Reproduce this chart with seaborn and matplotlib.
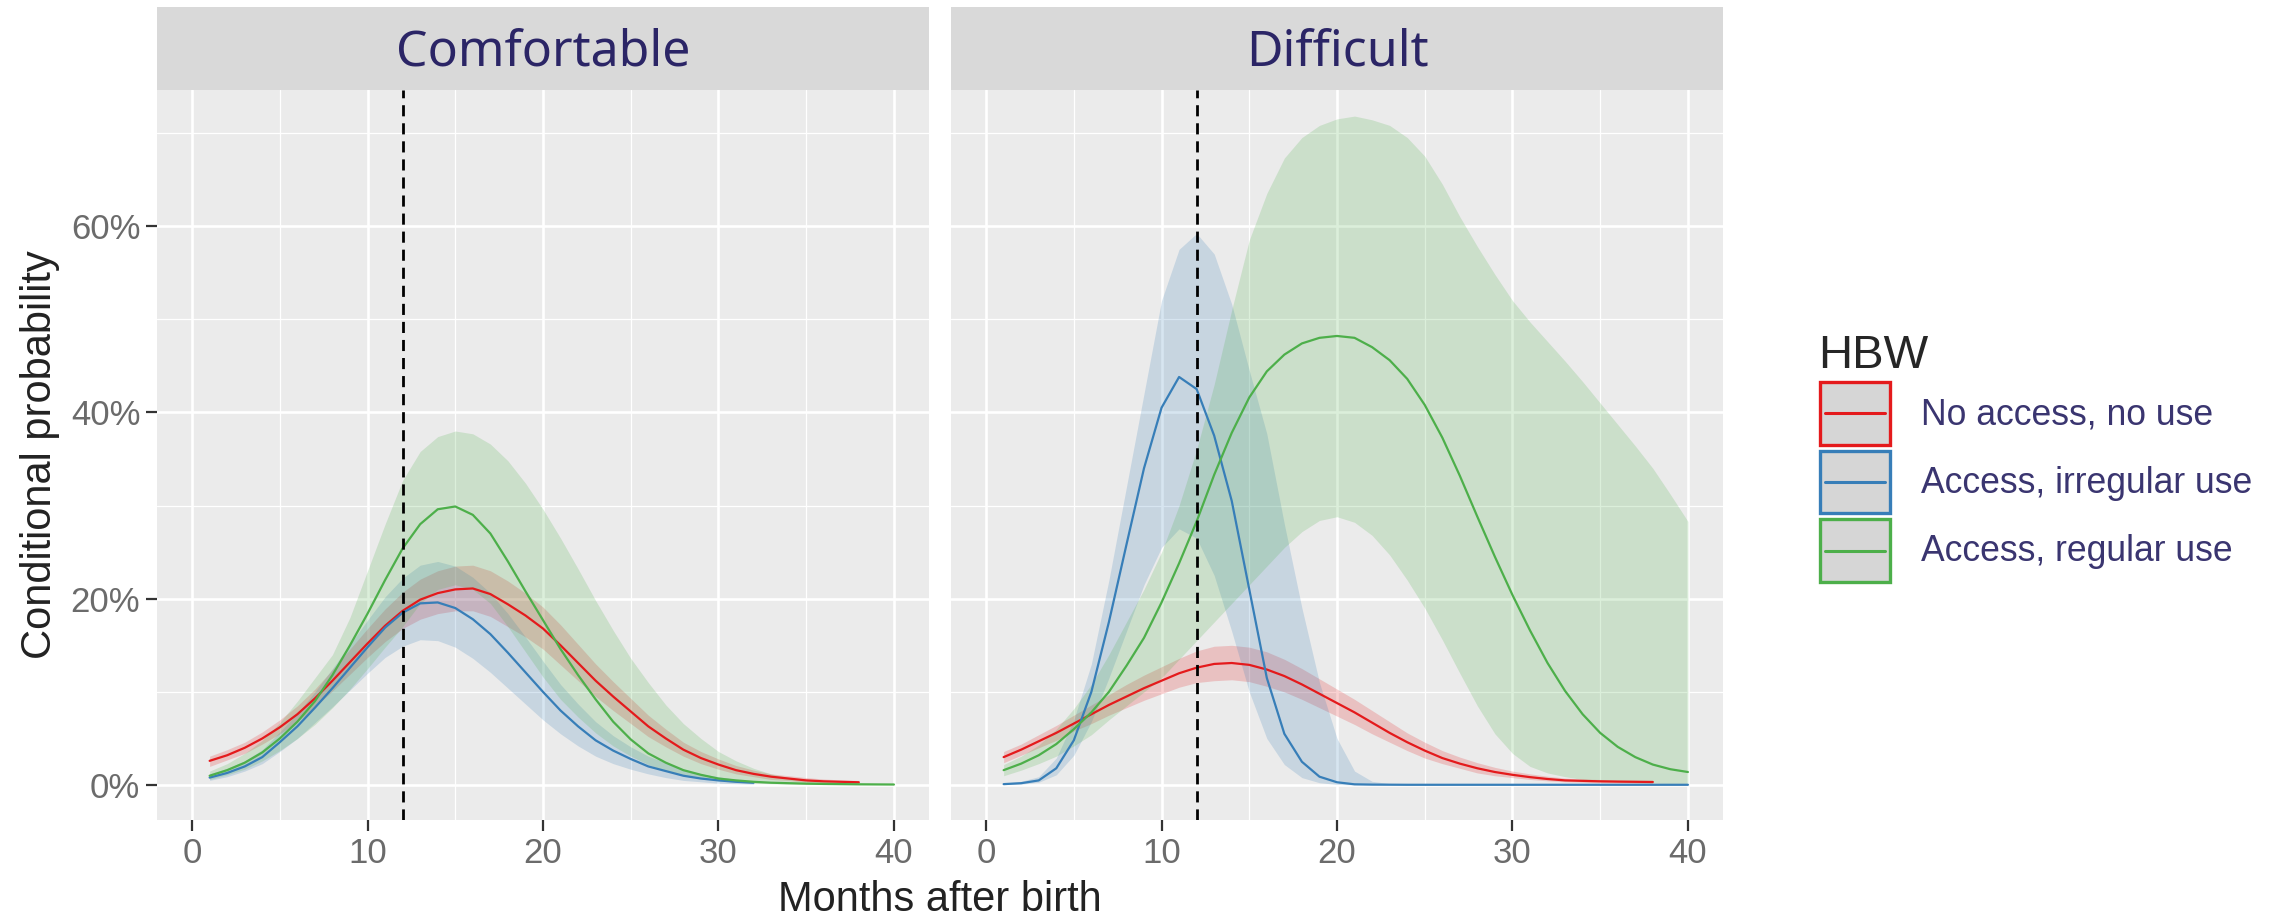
import numpy as np
import pandas as pd
import seaborn as sns
import matplotlib
matplotlib.use("Agg")
import matplotlib.pyplot as plt
from matplotlib.ticker import PercentFormatter, FixedLocator
from matplotlib.legend_handler import HandlerBase
from matplotlib.patches import Rectangle
from matplotlib.lines import Line2D

# ---------------- data (percent) ----------------
panels = ["Comfortable", "Difficult"]
groups = ["No access, no use", "Access, irregular use", "Access, regular use"]
group_colors = ["#E41A1C", "#377EB8", "#4DAF4A"]
x_ticks = [0, 10, 20, 30, 40]
y_ticks = [0, 20, 40, 60]

# Comfortable
comf_no_x = list(range(1, 39))
comf_no_mean = [2.6, 3.2, 4.0, 5.0, 6.2, 7.6, 9.3, 11.2, 13.2, 15.2, 17.1, 18.7, 19.9, 20.6, 21.0, 21.1,
                20.5, 19.4, 18.2, 16.8, 15.0, 13.1, 11.2, 9.5, 7.9, 6.3, 5.0, 3.8, 2.9, 2.2, 1.6, 1.2,
                0.9, 0.7, 0.5, 0.4, 0.35, 0.3]
comf_no_lo = [2.0, 2.7, 3.4, 4.4, 5.5, 6.8, 8.4, 10.1, 11.9, 13.7, 15.4, 16.8, 17.8, 18.4, 18.7, 18.7,
              18.1, 17.0, 15.9, 14.6, 12.9, 11.2, 9.5, 8.0, 6.6, 5.2, 4.1, 3.1, 2.3, 1.7, 1.2, 0.9,
              0.6, 0.5, 0.3, 0.2, 0.2, 0.15]
comf_no_hi = [3.1, 3.8, 4.6, 5.7, 7.0, 8.5, 10.3, 12.4, 14.6, 16.8, 18.9, 20.7, 22.1, 23.0, 23.5, 23.6,
              23.0, 21.9, 20.6, 19.1, 17.2, 15.1, 13.0, 11.1, 9.3, 7.5, 6.0, 4.6, 3.6, 2.8, 2.1, 1.6,
              1.2, 1.0, 0.8, 0.65, 0.55, 0.5]

comf_irr_x = list(range(1, 33))
comf_irr_mean = [0.8, 1.3, 2.0, 3.0, 4.6, 6.3, 8.3, 10.4, 12.6, 14.8, 16.9, 18.5, 19.5, 19.6, 19.0, 17.8,
                 16.2, 14.2, 12.1, 10.0, 8.0, 6.3, 4.8, 3.7, 2.8, 2.0, 1.5, 1.0, 0.7, 0.5, 0.35, 0.25]
comf_irr_lo = [0.5, 0.9, 1.5, 2.3, 3.6, 5.0, 6.7, 8.4, 10.2, 12.0, 13.7, 14.9, 15.6, 15.5, 14.8, 13.6,
               12.1, 10.4, 8.7, 7.0, 5.5, 4.2, 3.1, 2.3, 1.7, 1.2, 0.8, 0.5, 0.35, 0.2, 0.15, 0.1]
comf_irr_hi = [1.2, 1.8, 2.6, 3.8, 5.7, 7.7, 10.0, 12.5, 15.1, 17.7, 20.2, 22.2, 23.6, 24.0, 23.5, 22.3,
               20.6, 18.4, 15.9, 13.3, 10.8, 8.7, 6.8, 5.3, 4.1, 3.1, 2.4, 1.7, 1.2, 0.9, 0.6, 0.45]

comf_reg_x = list(range(1, 41))
comf_reg_mean = [1.0, 1.6, 2.4, 3.5, 5.0, 6.8, 9.0, 11.8, 15.0, 18.4, 22.0, 25.4, 28.0, 29.6, 29.9, 29.0,
                 27.0, 24.0, 20.8, 17.7, 14.6, 11.8, 9.2, 6.8, 4.9, 3.4, 2.4, 1.6, 1.1, 0.7, 0.5, 0.35,
                 0.25, 0.2, 0.15, 0.12, 0.1, 0.08, 0.07, 0.06]
comf_reg_lo = [0.6, 1.1, 1.7, 2.6, 3.7, 5.0, 6.5, 8.3, 10.3, 12.5, 14.8, 17.0, 19.5, 21.0, 21.5, 21.0,
               19.5, 17.0, 14.3, 11.6, 9.2, 7.3, 5.6, 4.2, 3.1, 2.2, 1.5, 1.0, 0.7, 0.45, 0.3, 0.2,
               0.15, 0.1, 0.08, 0.06, 0.05, 0.04, 0.03, 0.03]
comf_reg_hi = [1.5, 2.3, 3.4, 4.8, 6.7, 9.0, 11.5, 14.0, 18.0, 23.0, 28.0, 32.7, 35.8, 37.4, 38.0, 37.7,
               36.6, 34.8, 32.4, 29.6, 26.5, 23.2, 19.8, 16.6, 13.6, 11.0, 8.6, 6.6, 5.0, 3.6, 2.6, 1.8,
               1.2, 0.8, 0.55, 0.4, 0.3, 0.22, 0.17, 0.13]

# Difficult
diff_no_x = list(range(1, 39))
diff_no_mean = [3.0, 3.8, 4.7, 5.6, 6.6, 7.6, 8.6, 9.5, 10.4, 11.2, 12.0, 12.6, 13.0, 13.1, 12.9, 12.4,
                11.7, 10.8, 9.8, 8.8, 7.8, 6.7, 5.6, 4.6, 3.7, 2.9, 2.3, 1.8, 1.4, 1.1, 0.85, 0.65,
                0.5, 0.45, 0.4, 0.37, 0.35, 0.33]
diff_no_lo = [2.4, 3.2, 4.0, 4.8, 5.8, 6.6, 7.5, 8.3, 9.1, 9.8, 10.5, 11.0, 11.2, 11.3, 11.1, 10.6,
              10.0, 9.2, 8.3, 7.4, 6.5, 5.5, 4.6, 3.7, 2.9, 2.3, 1.8, 1.3, 1.0, 0.8, 0.6, 0.45,
              0.35, 0.3, 0.25, 0.22, 0.2, 0.18]
diff_no_hi = [3.6, 4.4, 5.4, 6.4, 7.5, 8.6, 9.7, 10.8, 11.8, 12.7, 13.6, 14.4, 14.9, 15.0, 14.8, 14.3,
              13.5, 12.5, 11.4, 10.3, 9.2, 8.0, 6.8, 5.6, 4.6, 3.7, 3.0, 2.4, 1.9, 1.5, 1.2, 0.95,
              0.75, 0.65, 0.6, 0.55, 0.52, 0.5]

diff_irr_x = list(range(1, 41))
diff_irr_mean = [0.1, 0.2, 0.5, 1.8, 4.8, 10.0, 17.5, 25.8, 34.0, 40.5, 43.8, 42.5, 37.5, 30.5, 21.0, 11.5,
                 5.5, 2.5, 0.9, 0.3, 0.08, 0.05, 0.04, 0.03, 0.03, 0.03, 0.03, 0.03, 0.03, 0.03, 0.03, 0.03,
                 0.03, 0.03, 0.03, 0.03, 0.03, 0.03, 0.03, 0.03]
diff_irr_lo = [0.05, 0.1, 0.3, 1.1, 3.2, 6.8, 11.5, 16.5, 21.5, 25.5, 27.5, 26.5, 22.5, 16.5, 10.0, 5.0,
               2.2, 0.8, 0.25, 0.07, 0.02, 0.01, 0.0, 0.0, 0.0, 0.0, 0.0, 0.0, 0.0, 0.0, 0.0, 0.0,
               0.0, 0.0, 0.0, 0.0, 0.0, 0.0, 0.0, 0.0]
diff_irr_hi = [0.2, 0.4, 0.9, 2.9, 7.0, 13.0, 22.0, 32.0, 42.0, 52.0, 57.5, 59.2, 57.0, 51.6, 44.5, 37.7,
               28.0, 19.0, 11.0, 5.0, 1.5, 0.4, 0.15, 0.08, 0.06, 0.05, 0.05, 0.05, 0.05, 0.05, 0.05, 0.05,
               0.05, 0.05, 0.05, 0.05, 0.05, 0.05, 0.05, 0.05]

diff_reg_x = list(range(1, 41))
diff_reg_mean = [1.6, 2.3, 3.2, 4.4, 6.0, 7.8, 10.0, 12.8, 15.8, 19.6, 23.8, 28.3, 33.3, 37.8, 41.6, 44.4,
                 46.2, 47.4, 48.0, 48.2, 48.0, 47.0, 45.6, 43.6, 40.8, 37.3, 33.2, 28.8, 24.5, 20.4, 16.6, 13.1,
                 10.1, 7.6, 5.6, 4.1, 3.0, 2.2, 1.7, 1.4]
diff_reg_lo = [1.0, 1.6, 2.3, 3.1, 4.2, 5.4, 7.0, 8.5, 10.0, 11.5, 13.5, 15.5, 17.5, 19.5, 21.5, 23.5,
               25.5, 27.2, 28.4, 28.8, 28.2, 26.8, 24.7, 22.0, 19.0, 15.6, 12.0, 8.5, 5.5, 3.4, 2.0, 1.3,
               0.9, 0.6, 0.45, 0.35, 0.25, 0.2, 0.15, 0.1]
diff_reg_hi = [2.2, 3.1, 4.3, 6.0, 8.2, 10.8, 14.0, 17.5, 21.0, 25.0, 30.0, 36.0, 43.0, 51.0, 58.5, 63.5,
               67.3, 69.5, 70.8, 71.5, 71.8, 71.4, 70.8, 69.5, 67.5, 64.5, 61.0, 57.8, 54.8, 52.0, 49.7, 47.6,
               45.5, 43.3, 41.0, 38.7, 36.4, 34.0, 31.2, 28.3]

series = {
    "Comfortable": [
        (comf_no_x, comf_no_mean, comf_no_lo, comf_no_hi),
        (comf_irr_x, comf_irr_mean, comf_irr_lo, comf_irr_hi),
        (comf_reg_x, comf_reg_mean, comf_reg_lo, comf_reg_hi),
    ],
    "Difficult": [
        (diff_no_x, diff_no_mean, diff_no_lo, diff_no_hi),
        (diff_irr_x, diff_irr_mean, diff_irr_lo, diff_irr_hi),
        (diff_reg_x, diff_reg_mean, diff_reg_lo, diff_reg_hi),
    ],
}

rows = []
for p in panels:
    for g, (xs, m, lo, hi) in zip(groups, series[p]):
        for xv, mv, lv, hv in zip(xs, m, lo, hi):
            rows.append(dict(panel=p, HBW=g, month=xv, prob=mv, lo=lv, hi=hv))
df = pd.DataFrame(rows)

# ---------------- style ----------------
sns.set_theme(style="darkgrid")
plt.rcParams["font.family"] = ["Liberation Sans", "DejaVu Sans"]

W, H = 2277, 923
fig = plt.figure(figsize=(W / 100, H / 100), dpi=100)
fig.patch.set_facecolor("white")

panel_top, panel_bot = 90, 820
strip_top = 7
lefts = [157, 951]
pw = 772
palette = dict(zip(groups, group_colors))

for i, p in enumerate(panels):
    x0 = lefts[i]
    ax = fig.add_axes([x0 / W, 1 - panel_bot / H, pw / W, (panel_bot - panel_top) / H])
    ax.set_facecolor("#EBEBEB")
    sub = df[df.panel == p]
    for g, c in zip(groups, group_colors):
        s = sub[sub.HBW == g]
        ax.fill_between(s.month, s.lo, s.hi, color=c, alpha=0.2, linewidth=0, zorder=2)
    sns.lineplot(data=sub, x="month", y="prob", hue="HBW", hue_order=groups, palette=palette,
                 estimator=None, sort=False, linewidth=1.6, ax=ax, legend=False, zorder=3)
    ax.axvline(12, color="black", linestyle=(0, (4, 2.5)), linewidth=2.0, zorder=4)
    ax.set_xlim(-2, 42)
    ax.set_ylim(-3.75, 74.6)
    ax.xaxis.set_major_locator(FixedLocator(x_ticks))
    ax.xaxis.set_minor_locator(FixedLocator([5, 15, 25, 35]))
    ax.yaxis.set_major_locator(FixedLocator(y_ticks))
    ax.yaxis.set_minor_locator(FixedLocator([10, 30, 50, 70]))
    ax.yaxis.set_major_formatter(PercentFormatter(xmax=100, decimals=0))
    ax.grid(which="major", color="white", linewidth=1.9)
    ax.grid(which="minor", color="white", linewidth=0.9)
    ax.set_axisbelow(True)
    for sp in ax.spines.values():
        sp.set_visible(False)
    ax.tick_params(which="major", axis="both", length=8, width=1.6, color="#333333",
                   labelsize=25, labelcolor="#6b6b6b", pad=4, direction="out")
    ax.tick_params(which="minor", length=0)
    ax.tick_params(axis="x", bottom=True)
    ax.tick_params(axis="y", left=(i == 0), labelleft=(i == 0))
    ax.set_xlabel("")
    ax.set_ylabel("")

    # facet strip
    sax = fig.add_axes([x0 / W, 1 - panel_top / H, pw / W, (panel_top - strip_top) / H])
    sax.set_facecolor("#D9D9D9")
    sax.set_xticks([])
    sax.set_yticks([])
    sax.grid(False)
    for sp in sax.spines.values():
        sp.set_visible(False)
    sax.text(0.5, 0.45, p, ha="center", va="center", fontsize=36, color="#2B2566",
             family=["Noto Sans", "DejaVu Sans"], transform=sax.transAxes)

fig.text((lefts[0] + lefts[1] + pw) / 2 / W, 1 - 900 / H, "Months after birth",
         ha="center", va="center", fontsize=30, color="#222222")
fig.text(40 / W, 1 - 455 / H, "Conditional probability", rotation=90,
         ha="center", va="center", fontsize=30, color="#222222")


# ---------------- legend ----------------
class KeyHandler(HandlerBase):
    def create_artists(self, legend, orig_handle, xdescent, ydescent, width, height, fontsize, trans):
        c = orig_handle.get_color()
        rect = Rectangle((-xdescent + 1.5, -ydescent + 1.5), width - 3, height - 3,
                         facecolor="#D6D6D6", edgecolor=c, linewidth=2.4, transform=trans)
        ln = Line2D([-xdescent + 0.1 * width, -xdescent + 0.9 * width],
                    [-ydescent + height / 2] * 2, color=c, linewidth=2.2, transform=trans)
        return [rect, ln]


handles = [Line2D([], [], color=c) for c in group_colors]
fs = 25.6
fspx = fs * 100 / 72
leg = fig.legend(handles, groups, loc="upper left", bbox_to_anchor=(1818 / W, 1 - 334 / H),
                 frameon=False, fontsize=fs, title="HBW", title_fontsize=34,
                 handler_map={Line2D: KeyHandler()}, handlelength=74 / fspx,
                 handleheight=2.5, labelspacing=0.06, handletextpad=29 / fspx,
                 borderpad=0, borderaxespad=0, alignment="left", labelcolor="#3A3570")

fig.savefig("out.png", dpi=100, facecolor="white")
